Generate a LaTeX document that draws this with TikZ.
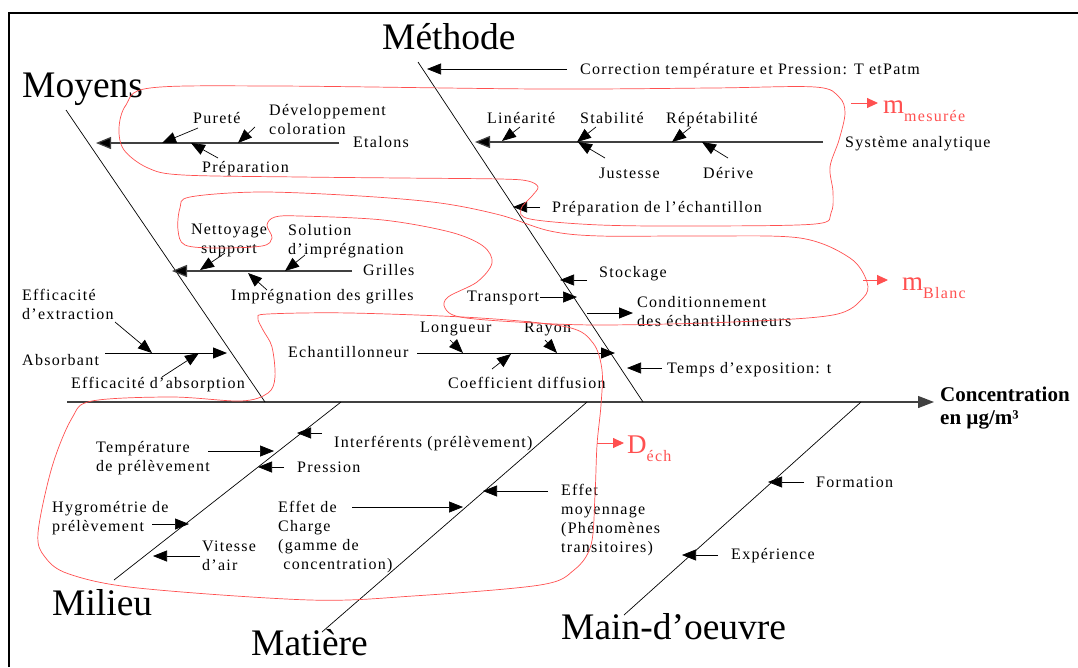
\documentclass[tikz,border=0pt]{standalone}
\usepackage{fontspec}
\setmainfont{Liberation Serif}
\newfontfamily\lblfont[LetterSpace=8]{Liberation Serif}
\usetikzlibrary{arrows.meta}
\definecolor{loopred}{RGB}{255,80,80}
\tikzset{
  bone/.style={line width=.7pt},
  spine/.style={line width=1.3pt,draw=black!75,fill=black!75,-{Triangle[length=16pt,width=12pt]}},
  branch/.style={line width=1.2pt,draw=black!75,-{Triangle[length=15pt,width=12pt,fill=black]}},
  cause/.style={line width=.7pt,-{Triangle[length=14pt,width=11pt]}},
  redloop/.style={draw=loopred,line width=.7pt},
  redarrow/.style={draw=loopred,line width=.9pt,-{Triangle[length=11pt,width=10pt,fill=loopred]}},
  lbl/.style={font={\lblfont\fontsize{16}{19}\selectfont},inner sep=0pt,anchor=base west},
  lblstack/.style={lbl,align=left,anchor=north west},
  bigtxt/.style={font=\fontsize{37.5}{40}\selectfont,inner sep=0pt,anchor=base west},
  redtxt/.style={font=\fontsize{27}{27}\selectfont,text=loopred,inner sep=0pt,anchor=base west}
}
\newcommand\redsub[1]{\raisebox{-8pt}{\lblfont\fontsize{16}{19}\selectfont #1}}
\begin{document}
\begin{tikzpicture}[x=1pt,y=-1pt]
  \useasboundingbox (0,0) rectangle (1078,667);
  \draw[line width=1.4pt] (9,667) -- (9,13) -- (1078,13);

  \coordinate (c0) at (67,402);
  \coordinate (c1) at (934,402);
  \draw[spine] (c0) -- (c1);
  \node[font=\bfseries\fontsize{21}{23}\selectfont,inner sep=0pt,align=left,anchor=north west]
    (conc) at (940,386.5) {Concentration\\en µg/m³};

  \coordinate (moy0) at (66,110);
  \coordinate (moy1) at (265,402);
  \coordinate (met0) at (418,62);
  \coordinate (met1) at (643,402);
  \coordinate (mil0) at (114,580);
  \coordinate (mil1) at (341,402);
  \coordinate (mat0) at (322,632);
  \coordinate (mat1) at (587,402);
  \coordinate (mo0) at (624,615);
  \coordinate (mo1) at (861,402);
  \draw[bone] (moy0) -- (moy1);
  \draw[bone] (met0) -- (met1);
  \draw[bone] (mil0) -- (mil1);
  \draw[bone] (mat0) -- (mat1);
  \draw[bone] (mo0) -- (mo1);

  \node[bigtxt] (moyens) at (22,97) {Moyens};
  \node[bigtxt] (methode) at (382,49) {Méthode};
  \node[bigtxt] (milieu) at (52,615) {Milieu};
  \node[bigtxt] (matiere) at (251,655) {Matière};
  \node[bigtxt] (mainoeuvre) at (561,639) {Main-d’oeuvre};

  % Moyens
  \coordinate (etal0) at (339,143);
  \coordinate (etal1) at (96,143);
  \draw[branch] (etal0) -- (etal1);
  \node[lbl] (etal) at (353,147) {Etalons};
  \node[lbl] (pur) at (193,123) {Pureté};
  \node[lblstack] (dev) at (269,104) {Développement\\coloration};
  \node[lbl] (prep) at (202,172) {Préparation};
  \coordinate (pur0) at (198,128);
  \coordinate (pur1) at (162,143);
  \coordinate (dev0) at (255,127);
  \coordinate (dev1) at (238,143);
  \coordinate (prep0) at (218,158);
  \coordinate (prep1) at (191,143);
  \draw[cause] (pur0) -- (pur1);
  \draw[cause] (dev0) -- (dev1);
  \draw[cause] (prep0) -- (prep1);

  \coordinate (gril0) at (352,271);
  \coordinate (gril1) at (172,271);
  \draw[branch] (gril0) -- (gril1);
  \node[lbl] (gril) at (363,275) {Grilles};
  \node[lblstack,align=center,anchor=north] (net) at (229,224) {Nettoyage\\support};
  \node[lblstack] (sol) at (288,224) {Solution\\d’imprégnation};
  \node[lbl] (impr) at (231,300) {Imprégnation des grilles};
  \coordinate (net0) at (225,253);
  \coordinate (net1) at (200,270);
  \coordinate (sol0) at (305,255);
  \coordinate (sol1) at (285,271);
  \coordinate (impr0) at (267,290);
  \coordinate (impr1) at (248,273);
  \draw[cause] (net0) -- (net1);
  \draw[cause] (sol0) -- (sol1);
  \draw[cause] (impr0) -- (impr1);

  \coordinate (abs0) at (105,353);
  \coordinate (abs1) at (227,353);
  \draw[cause,line width=1pt] (abs0) -- (abs1);
  \node[lbl] (absorb) at (22,365) {Absorbant};
  \node[lblstack] (effext) at (22,289) {Efficacité\\d’extraction};
  \node[lbl] (effabs) at (71,388) {Efficacité d’absorption};
  \coordinate (effext0) at (115,322);
  \coordinate (effext1) at (152,353);
  \coordinate (effabs0) at (162,377);
  \coordinate (effabs1) at (199,353);
  \draw[cause] (effext0) -- (effext1);
  \draw[cause] (effabs0) -- (effabs1);

  % Methode
  \node[lbl] (corr) at (580,74) {Correction température et Pression: T etPatm};
  \coordinate (corr0) at (567,69);
  \coordinate (corr1) at (427,69);
  \draw[cause] (corr0) -- (corr1);

  \coordinate (sys0) at (823,142);
  \coordinate (sys1) at (475,142);
  \draw[branch] (sys0) -- (sys1);
  \node[lbl] (sysan) at (845,147) {Système analytique};
  \node[lbl] (lin) at (487,123) {Linéarité};
  \node[lbl] (stab) at (580,123) {Stabilité};
  \node[lbl] (repet) at (666,123) {Répétabilité};
  \node[lbl] (just) at (599,178) {Justesse};
  \node[lbl] (deriv) at (703,178) {Dérive};
  \coordinate (lin0) at (520,127);
  \coordinate (lin1) at (502,141);
  \coordinate (stab0) at (596,127);
  \coordinate (stab1) at (577,142);
  \coordinate (repet0) at (691,127);
  \coordinate (repet1) at (672,142);
  \coordinate (just0) at (605,158);
  \coordinate (just1) at (578,142);
  \coordinate (deriv0) at (728,158);
  \coordinate (deriv1) at (702,142);
  \draw[cause] (lin0) -- (lin1);
  \draw[cause] (stab0) -- (stab1);
  \draw[cause] (repet0) -- (repet1);
  \draw[cause] (just0) -- (just1);
  \draw[cause] (deriv0) -- (deriv1);

  \node[lbl] (prepech) at (552,212) {Préparation de l’échantillon};
  \node[lbl] (stock) at (599,277) {Stockage};
  \node[lbl] (transp) at (467,301) {Transport};
  \node[lblstack] (cond) at (637,296) {Conditionnement\\des échantillonneurs};
  \node[lbl] (temps) at (667,373) {Temps d’exposition: t};
  \coordinate (prepech0) at (540,207);
  \coordinate (prepech1) at (513,207);
  \coordinate (stock0) at (587,280);
  \coordinate (stock1) at (560,280);
  \coordinate (transp0) at (540,297);
  \coordinate (transp1) at (577,297);
  \coordinate (cond0) at (587,313);
  \coordinate (cond1) at (633,313);
  \coordinate (temps0) at (662,368);
  \coordinate (temps1) at (627,368);
  \draw[cause] (prepech0) -- (prepech1);
  \draw[cause] (stock0) -- (stock1);
  \draw[cause] (transp0) -- (transp1);
  \draw[cause,line width=1pt] (cond0) -- (cond1);
  \draw[cause] (temps0) -- (temps1);

  \coordinate (ech0) at (417,353);
  \coordinate (ech1) at (615,353);
  \draw[cause,line width=1pt] (ech0) -- (ech1);
  \node[lbl] (echant) at (288,357) {Echantillonneur};
  \node[lbl] (long) at (420,332) {Longueur};
  \node[lbl] (rayon) at (524,332) {Rayon};
  \node[lbl] (coef) at (448,388) {Coefficient diffusion};
  \coordinate (long0) at (450,340);
  \coordinate (long1) at (463,353);
  \coordinate (rayon0) at (545,340);
  \coordinate (rayon1) at (557,353);
  \coordinate (coef0) at (492,369);
  \coordinate (coef1) at (511,354);
  \draw[cause] (long0) -- (long1);
  \draw[cause] (rayon0) -- (rayon1);
  \draw[cause] (coef0) -- (coef1);

  % Milieu
  \node[lbl] (interf) at (334,447) {Interférents (prélèvement)};
  \node[lblstack] (tempe) at (96,441) {Température\\de prélèvement};
  \node[lbl] (press) at (297,472) {Pression};
  \node[lblstack] (hygro) at (52,501) {Hygrométrie de\\prélèvement};
  \node[lblstack] (vit) at (202,541) {Vitesse\\d’air};
  \coordinate (interf0) at (322,433);
  \coordinate (interf1) at (297,433);
  \coordinate (tempe0) at (208,451);
  \coordinate (tempe1) at (274,451);
  \coordinate (press0) at (284,467);
  \coordinate (press1) at (258,467);
  \coordinate (hygro0) at (152,524);
  \coordinate (hygro1) at (189,524);
  \coordinate (vit0) at (200,556);
  \coordinate (vit1) at (153,556);
  \draw[cause] (interf0) -- (interf1);
  \draw[cause] (tempe0) -- (tempe1);
  \draw[cause] (press0) -- (press1);
  \draw[cause] (hygro0) -- (hygro1);
  \draw[cause] (vit0) -- (vit1);

  % Matiere
  \node[lblstack] (effch) at (278,501) {Effet de\\Charge\\(gamme de\\\ concentration)};
  \node[lblstack] (effmoy) at (561,484) {Effet\\moyennage\\(Phénomènes\\transitoires)};
  \coordinate (effch0) at (352,507);
  \coordinate (effch1) at (463,507);
  \coordinate (effmoy0) at (548,491);
  \coordinate (effmoy1) at (483,491);
  \draw[cause] (effch0) -- (effch1);
  \draw[cause] (effmoy0) -- (effmoy1);

  % Main-d'oeuvre
  \node[lbl] (form) at (816,487) {Formation};
  \node[lbl] (exper) at (731,559) {Expérience};
  \coordinate (form0) at (804,482);
  \coordinate (form1) at (768,482);
  \coordinate (exper0) at (718,555);
  \coordinate (exper1) at (682,555);
  \draw[cause] (form0) -- (form1);
  \draw[cause] (exper0) -- (exper1);

  % red groupings
  \draw[redloop] plot[smooth cycle,tension=.55] coordinates {
    (150,88) (275,86) (540,89) (712,88) (815,87) (839,97) (845,113)
    (839,140) (830,167) (833,192) (831,213) (815,224) (700,226) (600,225)
    (530,219) (521,209) (532,196) (538,187) (528,181) (500,179) (400,178)
    (300,177) (183,175) (148,168) (124,150) (119,128) (126,105)};
  \draw[redloop] plot[smooth cycle,tension=.55] coordinates {
    (190,197) (260,192) (360,196) (440,203) (500,215) (550,231) (600,236)
    (700,236) (800,238) (850,258) (867,282) (863,298) (833,315) (733,322)
    (600,325) (517,322) (460,317) (445,308) (448,297) (477,282) (492,263)
    (483,246) (450,232) (383,220) (300,216) (275,217) (267,225) (272,238)
    (262,246) (217,248) (185,245) (178,230) (180,208)};
  \draw[redloop] plot[smooth cycle,tension=.55] coordinates {
    (258,318) (268,314) (350,313) (480,318) (567,327) (593,343) (602,370)
    (601,405) (597,445) (595,495) (591,545) (574,570) (540,585) (413,596)
    (310,600) (138,588) (69,574) (45,557) (38,533) (52,467) (72,418)
    (92,401) (172,397) (241,401) (268,393) (275,377) (272,347) (263,330)};

  \coordinate (mmes0) at (851,103);
  \coordinate (mmes1) at (878,103);
  \draw[redarrow] (mmes0) -- (mmes1);
  \node[redtxt] (mmes) at (883,113) {m\redsub{mesurée}};
  \coordinate (mbl0) at (863,280);
  \coordinate (mbl1) at (888,280);
  \draw[redarrow] (mbl0) -- (mbl1);
  \node[redtxt] (mbl) at (902,290) {m\redsub{Blanc}};
  \coordinate (dech0) at (597,443);
  \coordinate (dech1) at (624,443);
  \draw[redarrow] (dech0) -- (dech1);
  \node[redtxt] (dech) at (627,453) {D\redsub{éch}};
\end{tikzpicture}
\end{document}
